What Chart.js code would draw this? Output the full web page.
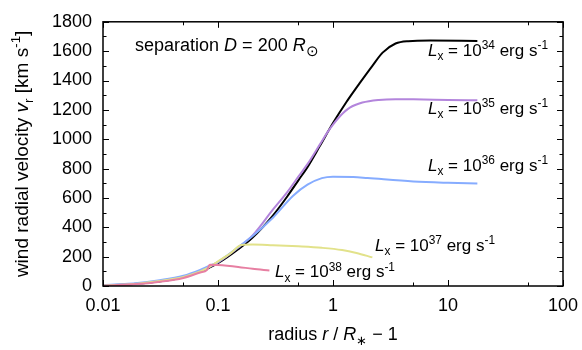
<!DOCTYPE html>
<html>
<head>
<meta charset="utf-8">
<script src="https://cdn.jsdelivr.net/npm/chart.js@4"></script>
<style>
  html, body { margin: 0; padding: 0; background: #fff; }
  #wrap { width: 582px; height: 350px; }
</style>
</head>
<body>
<div id="wrap"><canvas id="vel"></canvas></div>
<script>
// wind velocity vs radius, one curve per X-ray luminosity
const xTicks = [0.01, 0.1, 1, 10, 100];
const yMax = 1800;

const x34 = [0.01, 0.02, 0.03, 0.05, 0.07, 0.08, 0.1, 0.15, 0.2, 0.3, 0.4, 0.5, 0.6, 0.77, 1.0, 1.3, 1.7, 2.2, 2.7, 3.5, 4.5, 7, 18];
const v34 = [3, 15, 30, 60, 98, 118, 155, 250, 330, 480, 610, 720, 810, 955, 1110, 1250, 1380, 1500, 1590, 1652, 1668, 1672, 1670];

const x35 = [0.01, 0.02, 0.03, 0.05, 0.07, 0.08, 0.1, 0.15, 0.2, 0.3, 0.4, 0.5, 0.6, 0.77, 0.9, 1.0, 1.16, 1.4, 1.8, 2.5, 3.5, 5, 10, 18];
const v35 = [3, 16, 31, 62, 100, 120, 160, 262, 345, 520, 640, 745, 830, 965, 1050, 1100, 1160, 1215, 1250, 1268, 1273, 1272, 1268, 1265];

const x36 = [0.01, 0.02, 0.03, 0.05, 0.07, 0.08, 0.1, 0.15, 0.2, 0.3, 0.45, 0.6, 0.8, 1.0, 1.5, 2, 5, 10, 18];
const v36 = [5, 20, 38, 70, 110, 130, 165, 265, 340, 465, 615, 690, 735, 745, 742, 735, 712, 703, 698];

const x37 = [0.01, 0.02, 0.03, 0.05, 0.07, 0.08, 0.1, 0.13, 0.16, 0.2, 0.3, 0.5, 0.8, 1.2, 1.6, 2.2];
const v37 = [3, 16, 32, 62, 100, 120, 168, 226, 280, 283, 278, 270, 260, 245, 225, 195];

const x38 = [0.01, 0.02, 0.03, 0.05, 0.07, 0.08, 0.085, 0.1, 0.15, 0.2, 0.28];
const v38 = [2, 13, 27, 55, 92, 108, 145, 143, 130, 117, 106];

const FONT = '"Liberation Sans", Arial, Helvetica, sans-serif';

function pts(xs, vs) {
  return xs.map((x, i) => ({ x: x, y: vs[i] }));
}

function curve(xs, vs, color) {
  return {
    data: pts(xs, vs),
    borderColor: color,
    borderWidth: 2,
    pointRadius: 0,
    fill: false,
    cubicInterpolationMode: 'monotone'
  };
}

// draw a run of text pieces, with italic / sub / sup parts
function richWidth(ctx, parts, size) {
  let w = 0;
  parts.forEach(p => {
    let fs = p.s ? size * (p.k || 0.7) : size;
    ctx.font = (p.i ? 'italic ' : '') + fs + 'px ' + FONT;
    w += ctx.measureText(p.t).width;
  });
  return w;
}

function drawRich(ctx, x, y, parts, size) {
  parts.forEach(p => {
    let fs = size, dy = 0;
    if (p.s === 'sup') { fs = size * (p.k || 0.7); dy = -size * 0.4; }
    if (p.s === 'sub') { fs = size * (p.k || 0.7); dy = size * (p.d || 0.25); }
    ctx.font = (p.i ? 'italic ' : '') + fs + 'px ' + FONT;
    ctx.fillText(p.t, x, y + dy);
    x += ctx.measureText(p.t).width;
  });
}

function lxLabel(exp) {
  return [
    { t: 'L', i: true }, { t: 'x', s: 'sub' }, { t: ' = 10' }, { t: exp, s: 'sup' },
    { t: ' erg s' }, { t: '-1', s: 'sup' }
  ];
}

// label anchors in data units (left edge, baseline)
const labels = [
  { x: 6.7, y: 1569, parts: lxLabel('34') },
  { x: 6.7, y: 1173, parts: lxLabel('35') },
  { x: 6.7, y: 784, parts: lxLabel('36') },
  { x: 2.32, y: 237, parts: lxLabel('37') },
  { x: 0.313, y: 59, parts: lxLabel('38') }
];

const decor = {
  id: 'decor',
  afterDatasetsDraw(chart) {
    const ctx = chart.ctx;
    const a = chart.chartArea;
    const xs = chart.scales.x, ys = chart.scales.y;
    ctx.save();
    ctx.strokeStyle = '#000';
    ctx.lineWidth = 1.5;
    ctx.strokeRect(a.left, a.top, a.right - a.left, a.bottom - a.top);

    // inward ticks on all four sides
    ctx.lineWidth = 1;
    ctx.beginPath();
    xs.ticks.forEach(t => {
      const px = Math.round(xs.getPixelForValue(t.value)) + 0.5;
      const len = xTicks.includes(t.value) ? 6 : 3.5;
      ctx.moveTo(px, a.bottom); ctx.lineTo(px, a.bottom - len);
      ctx.moveTo(px, a.top); ctx.lineTo(px, a.top + len);
    });
    for (let v = 0; v <= yMax; v += 100) {
      const py = Math.round(ys.getPixelForValue(v)) + 0.5;
      const len = v % 200 === 0 ? 6 : 3.5;
      ctx.moveTo(a.left, py); ctx.lineTo(a.left + len, py);
      ctx.moveTo(a.right, py); ctx.lineTo(a.right - len, py);
    }
    ctx.stroke();

    ctx.fillStyle = '#000';
    ctx.textBaseline = 'alphabetic';
    ctx.textAlign = 'left';
    labels.forEach(l => {
      drawRich(ctx, xs.getPixelForValue(l.x), ys.getPixelForValue(l.y), l.parts, 17);
    });

    // separation note
    drawRich(ctx, xs.getPixelForValue(0.019), ys.getPixelForValue(1602), [
      { t: 'separation ' }, { t: 'D', i: true }, { t: ' = 200 ' }, { t: 'R', i: true },
      { t: '\u2299', s: 'sub', k: 0.85, d: 0.3 }
    ], 18);

    // x axis title
    const xt = [
      { t: 'radius ' }, { t: 'r', i: true }, { t: ' / ' }, { t: 'R', i: true },
      { t: '\u2217', s: 'sub', d: 0.3 }, { t: ' \u2212 1' }
    ];
    const wx = richWidth(ctx, xt, 18);
    drawRich(ctx, (a.left + a.right) / 2 - wx / 2, 340, xt, 18);

    // y axis title, rotated
    const yt = [
      { t: 'wind radial velocity ' }, { t: 'v', i: true }, { t: 'r', s: 'sub' },
      { t: ' [km s' }, { t: '-1', s: 'sup' }, { t: ']' }
    ];
    const wy = richWidth(ctx, yt, 19);
    ctx.translate(28, (a.top + a.bottom) / 2);
    ctx.rotate(-Math.PI / 2);
    drawRich(ctx, -wy / 2, 0, yt, 19);
    ctx.restore();
  }
};

new Chart(document.getElementById('vel'), {
  type: 'line',
  data: {
    datasets: [
      curve(x38, v38, '#e77fa2'),
      curve(x37, v37, '#e2e28a'),
      curve(x36, v36, '#86acff'),
      curve(x35, v35, '#b385dc'),
      curve(x34, v34, '#000000')
    ]
  },
  options: {
    responsive: true,
    maintainAspectRatio: false,
    animation: false,
    layout: { padding: { left: 0, right: 19, top: 13, bottom: 0 } },
    plugins: { legend: { display: false }, tooltip: { enabled: false } },
    scales: {
      x: {
        type: 'logarithmic',
        min: 0.01,
        max: 100,
        grid: { display: false, drawTicks: false },
        border: { display: false },
        afterBuildTicks: s => {
          const t = [];
          xTicks.forEach(v => { t.push({ value: v }); if (v < 100) t.push({ value: v * 5 }); });
          s.ticks = t;
        },
        afterFit: s => { s.height = 64; s.paddingRight = 0; },
        ticks: {
          autoSkip: false,
          maxRotation: 0,
          padding: 9,
          color: '#000',
          font: { family: FONT, size: 18 },
          callback: v => xTicks.includes(v) ? String(v) : ''
        }
      },
      y: {
        min: 0,
        max: yMax,
        grid: { display: false, drawTicks: false },
        border: { display: false },
        afterFit: s => { s.width = 103; },
        ticks: {
          stepSize: 200,
          padding: 11,
          color: '#000',
          font: { family: FONT, size: 18 },
          callback: v => String(v)
        }
      }
    }
  },
  plugins: [decor]
});
</script>
</body>
</html>
